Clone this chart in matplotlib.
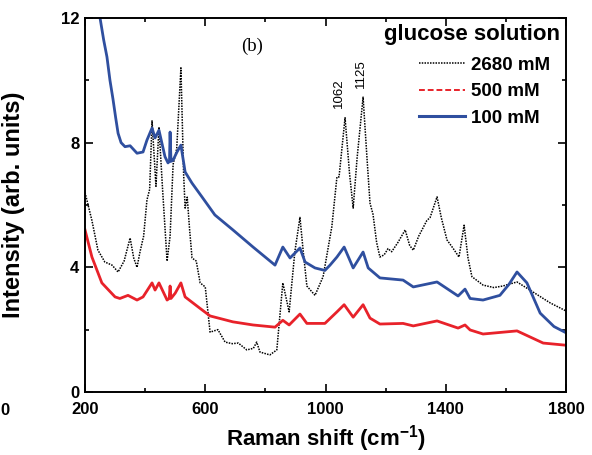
import matplotlib
matplotlib.use("Agg")
import matplotlib.pyplot as plt
from matplotlib.lines import Line2D
from matplotlib.ticker import MultipleLocator

plt.rcParams["font.family"] = ["Liberation Sans", "DejaVu Sans"]
plt.rcParams["mathtext.fontset"] = "custom"
plt.rcParams["mathtext.rm"] = "Liberation Sans:bold"
plt.rcParams["mathtext.bf"] = "Liberation Sans:bold"

# 2680 mM (dotted black)
x_2680 = [200, 223, 243, 266, 290, 310, 330, 350, 362, 373, 383, 395, 406, 415, 423,
          436, 446, 458, 473, 483, 493, 505, 519, 528, 533, 540, 548, 556, 570, 583,
          600, 616, 642, 666, 690, 710, 738, 760, 771, 782, 815, 838, 858, 879, 898,
          915, 926, 938, 965, 992, 1021, 1038, 1045, 1065, 1080, 1092, 1105, 1125, 1138,
          1148, 1158, 1170, 1181, 1195, 1208, 1220, 1241, 1265, 1280, 1292, 1310, 1337,
          1348, 1371, 1385, 1404, 1425, 1444, 1461, 1474, 1487, 1524, 1560, 1590, 1637,
          1680, 1747, 1800]
y_2680 = [6.4, 5.5, 4.55, 4.17, 4.07, 3.85, 4.2, 4.94, 4.3, 4.0, 4.5, 5.0, 6.16, 6.5, 8.7,
          6.6, 8.5, 6.5, 4.2, 5.0, 7.3, 7.8, 10.4, 7.0, 5.9, 6.25, 5.2, 4.3, 4.2, 3.5,
          3.37, 1.92, 2.0, 1.6, 1.55, 1.57, 1.35, 1.4, 1.6, 1.28, 1.19, 1.35, 3.5, 2.57, 4.5,
          5.6, 4.5, 3.4, 3.1, 3.7, 5.3, 6.9, 6.9, 8.8, 7.0, 5.9, 7.5, 9.46, 7.5,
          6.06, 5.7, 4.8, 4.33, 4.4, 4.6, 4.5, 4.8, 5.2, 4.7, 4.55, 5.0, 5.5,
          5.6, 6.26, 5.6, 4.88, 4.6, 4.33, 5.35, 4.3, 3.7, 3.43, 3.35, 3.4, 3.53,
          3.27, 2.86, 2.6]

# 500 mM (red)
x_500 = [200, 223, 256, 300, 316, 343, 373, 393, 423, 433, 446, 473, 480, 483, 486, 500,
         519, 533, 560, 583, 616, 692, 759, 832, 858, 879, 915, 938, 998, 1038, 1062,
         1092, 1125, 1148, 1181, 1258, 1292, 1371, 1441, 1464, 1481, 1524, 1637, 1724, 1800]
y_500 = [5.2, 4.33, 3.5, 3.05, 3.0, 3.1, 2.95, 3.05, 3.5, 3.27, 3.5, 2.95, 3.0, 3.4, 3.0, 3.17,
         3.5, 3.05, 2.85, 2.68, 2.44, 2.25, 2.15, 2.08, 2.3, 2.15, 2.5, 2.2, 2.2, 2.57, 2.8,
         2.4, 2.8, 2.37, 2.18, 2.2, 2.12, 2.28, 2.05, 2.15, 1.99, 1.86, 1.96, 1.57, 1.5]

# 100 mM (blue)
x_100 = [240, 250, 262, 273, 283, 293, 302, 310, 320, 333, 350, 373, 393, 406, 423, 433, 446,
         466, 476, 481, 483, 486, 493, 506, 519, 533, 556, 589, 632, 692, 759, 832, 858, 882,
         915, 932, 965, 998, 1015, 1038, 1062, 1092, 1125, 1142, 1181, 1258, 1292, 1371, 1441,
         1464, 1481, 1524, 1580, 1610, 1637, 1670, 1714, 1760, 1800]
y_100 = [12.6, 12.0, 11.3, 10.75, 10.0, 9.4, 8.8, 8.3, 8.0, 7.87, 7.9, 7.66, 7.7, 8.08, 8.47, 8.15, 8.4,
         7.55, 7.35, 7.4, 8.34, 7.4, 7.44, 7.7, 7.92, 7.06, 6.7, 6.26, 5.68, 5.2, 4.65, 4.07, 4.65, 4.3,
         4.62, 4.17, 3.98, 3.9, 4.07, 4.33, 4.65, 3.98, 4.49, 3.98, 3.66, 3.59, 3.37, 3.53, 3.08,
         3.3, 3.0, 2.95, 3.1, 3.45, 3.85, 3.5, 2.53, 2.1, 1.9]

peak_labels = ["1062", "1125"]
peak_pos = [(1045, 9.1), (1118, 9.75)]

BLUE = "#2f4f9f"
RED = "#e8222a"

fig = plt.figure(figsize=(5.92, 4.55), dpi=100)
ax = fig.add_axes([0.1436, 0.1385, 0.8125, 0.822])

ax.plot(x_2680, y_2680, color="black", lw=1.1, ls=(0, (1, 0.8)))
ax.plot(x_500, y_500, color=RED, lw=2.0)
ax.plot(x_100, y_100, color=BLUE, lw=2.0)

ax.set_xlim(200, 1800)
ax.set_ylim(0, 12)
ax.xaxis.set_major_locator(MultipleLocator(400, offset=200))
ax.xaxis.set_minor_locator(MultipleLocator(200))
ax.yaxis.set_major_locator(MultipleLocator(4))
ax.yaxis.set_minor_locator(MultipleLocator(2))
ax.tick_params(which="both", direction="in", top=True, right=True, width=1.2)
ax.tick_params(which="major", length=6)
ax.tick_params(which="minor", length=3)
ax.tick_params(axis="x", pad=7)
ax.tick_params(axis="y", pad=4)
for lab in ax.get_xticklabels() + ax.get_yticklabels():
    lab.set_fontsize(12)
    lab.set_fontweight("bold")
for s in ax.spines.values():
    s.set_linewidth(1.4)

ax.set_xlabel("Raman shift (cm$^{-1}$)", fontsize=16, fontweight="bold")
ax.set_ylabel("Intensity (arb. units)", fontsize=17, fontweight="bold")
ax.xaxis.set_label_coords(0.5, -0.083)
ax.yaxis.set_label_coords(-0.125, 0.5)

for lab, (px, py) in zip(peak_labels, peak_pos):
    ax.text(px, py, lab, rotation=90, ha="center", va="bottom", fontsize=9.5)

ax.text(755, 11.1, "(b)", family="Liberation Serif", fontsize=13.5, ha="center", va="center")

ax.text(0.9875, 0.955, "glucose solution", transform=ax.transAxes, ha="right",
        va="center", fontsize=16, fontweight="bold")

handles = [Line2D([], [], color="black", lw=1.1, ls=(0, (1, 0.8))),
           Line2D([], [], color=RED, lw=1.4, ls=(0, (3, 1.5))),
           Line2D([], [], color=BLUE, lw=2.2)]
ax.legend(handles, ["2680 mM", "500 mM", "100 mM"], loc="upper left",
          bbox_to_anchor=(0.694, 0.897), frameon=False, borderpad=0, borderaxespad=0,
          handlelength=2.45, handletextpad=0.32, labelspacing=0.5,
          prop={"weight": "bold", "size": 13.5})

fig.text(0.001, 0.097, "0", fontsize=12, fontweight="bold", ha="left", va="center")

fig.savefig("out.png", dpi=100)
